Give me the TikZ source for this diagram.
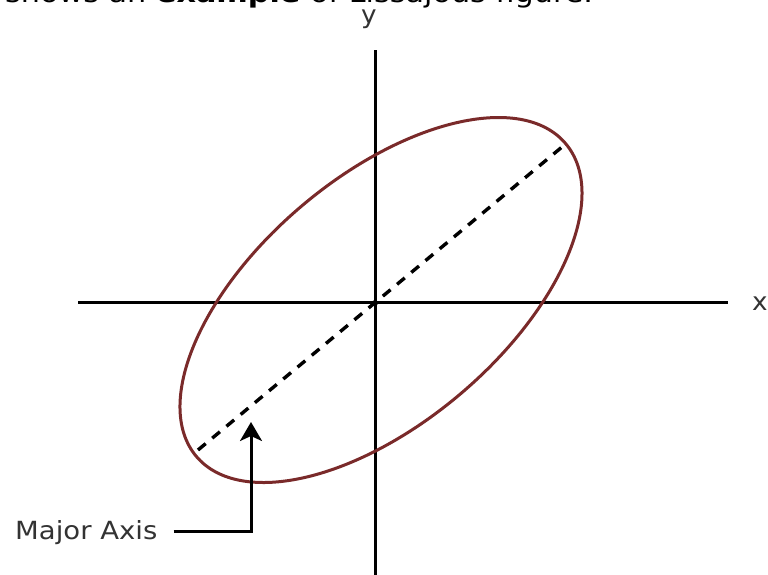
\documentclass[tikz,border=0pt]{standalone}
\usepackage{fontspec}
\setmainfont{DejaVu Sans}
\usetikzlibrary{arrows.meta}
\definecolor{ellcol}{HTML}{7A2A2A}
\definecolor{txtcol}{HTML}{333333}
\tikzset{
  axisline/.style={line width=3pt, black},
  lbl/.style={inner sep=0pt, text=txtcol, font=\fontsize{25}{25}\selectfont},
  majordash/.style={line width=3.4pt, dash pattern=on 10pt off 8.5pt},
  pointer/.style={line width=3pt, -{Stealth[length=19pt,width=22pt,inset=5pt]}},
}
\begin{document}
\begin{tikzpicture}[x=1pt,y=1pt]
\useasboundingbox (0,0) rectangle (768,575);
\clip (0,0) rectangle (768,575);
\fill[white] (0,0) rectangle (768,575);
% cut-off caption
\node[anchor=base west, inner sep=0pt, text=black, font=\fontsize{27}{27}\selectfont] (cap) at (5,572)
  {\scalebox{1.12}[1]{shows an \textbf{example} of Lissajous figure.}};
% axes
\coordinate (O) at (375,272);
\coordinate (ytop) at (375,525);
\coordinate (ybot) at (375,0);
\coordinate (xl) at (78,272);
\coordinate (xr) at (728,272);
\draw[axisline] (ybot) -- (ytop);
\draw[axisline] (xl) -- (xr);
\node[lbl] (ylab) at (369,556) {\scalebox{1.05}[1]{y}};
\node[lbl] (xlab) at (760,271) {\scalebox{1.05}[1]{x}};
\fill (O) circle (3pt);
% ellipse
\coordinate (C) at (381,275);
\draw[line width=3pt, ellcol, rotate around={40.3:(C)}] (C) ellipse [x radius=242, y radius=123];
% major axis
\coordinate (m1) at (198,125);
\coordinate (m2) at (562,428);
\draw[majordash] (m1) -- (m2);
% pointer
\node[lbl, anchor=base west] (maj) at (15,35) {\scalebox{1.1}[1]{Major Axis}};
\coordinate (corner) at (251,43);
\coordinate (tip) at (251,153);
\draw[pointer] (maj.east |- corner) ++(16,0) coordinate (pstart) -- (corner) -- (tip);
\end{tikzpicture}
\end{document}
